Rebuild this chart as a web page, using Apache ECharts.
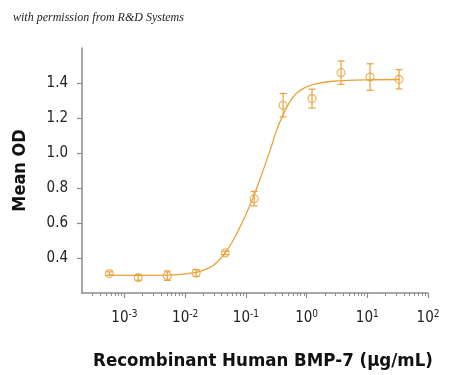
<!DOCTYPE html>
<html>
<head>
<meta charset="utf-8">
<script src="https://cdn.jsdelivr.net/npm/echarts@6/dist/echarts.min.js"></script>
<style>
  html, body { margin: 0; padding: 0; background: #fff; }
  #chart { width: 450px; height: 375px; }
</style>
</head>
<body>
<div id="chart"></div>
<script>
// concentrations (ug/mL), 3-fold dilution
const conc = [0.000564, 0.00169, 0.00508, 0.0152, 0.0457, 0.137, 0.411, 1.23, 3.7, 11.1, 33.3]
const meanOD = [0.311, 0.288, 0.299, 0.314, 0.429, 0.739, 1.273, 1.311, 1.459, 1.434, 1.421]
const errOD = [0.010, 0.015, 0.027, 0.019, 0.010, 0.041, 0.067, 0.054, 0.067, 0.076, 0.055]

// fitted curve
const fitConc = [0.000525, 0.00164, 0.00492, 0.0154, 0.0252, 0.0325, 0.0446, 0.0610, 0.0787, 0.101, 0.130, 0.168,
  0.217, 0.262, 0.317, 0.383, 0.525, 0.676, 0.989, 1.64, 2.72, 9.66, 34.1]
const fitOD = [0.302, 0.301, 0.302, 0.318, 0.345, 0.372, 0.425, 0.497, 0.572, 0.652, 0.740, 0.843,
  0.952, 1.035, 1.125, 1.195, 1.290, 1.340, 1.378, 1.400, 1.410, 1.418, 1.420]

const xMajor = [-3, -2, -1, 0, 1, 2]
const yTicks = [0.4, 0.6, 0.8, 1.0, 1.2, 1.4]

const ORANGE = '#e8a23a'
const AXIS = '#8a8a8a'
const FONT = "'DejaVu Sans', sans-serif"

// minor ticks 2..9 in each decade
const xMinor = []
for (let e = -4; e < 2; e++) {
  for (let m = 2; m <= 9; m++) {
    const v = Math.log10(m * Math.pow(10, e))
    if (v > Math.log10(0.0002)) xMinor.push(v)
  }
}

const lg = v => Math.log10(v)

const chart = echarts.init(document.getElementById('chart'))
chart.setOption({
  animation: false,
  title: {
    text: 'with permission from R&D Systems',
    left: 8, top: 7,
    textStyle: { fontFamily: "'Liberation Serif', serif", fontStyle: 'italic',
      fontWeight: 'normal', fontSize: 12, color: '#222' },
  },
  grid: { left: 82, right: 22, top: 48, bottom: 82, outerBoundsMode: 'none' },
  xAxis: [
    {
      type: 'value', min: lg(0.0002), max: 2,
      name: 'Recombinant Human BMP-7 (μg/mL)',
      nameLocation: 'middle', nameGap: 59,
      nameTextStyle: { fontFamily: FONT, fontWeight: 'bold condensed', fontSize: 18.5, color: '#111',
        padding: [0, 0, 0, 16] },
      axisLine: { show: true, onZero: false, lineStyle: { color: AXIS, width: 1.5 } },
      axisTick: { show: true, length: 5, customValues: xMajor, lineStyle: { color: AXIS, width: 1.2 } },
      splitLine: { show: false },
      axisLabel: {
        customValues: xMajor, margin: 16,
        formatter: v => '{b|10}{s|' + Math.round(v) + '}',
        rich: {
          b: { fontFamily: FONT, fontWeight: 'condensed', fontSize: 15, color: '#222' },
          s: { fontFamily: FONT, fontWeight: 'condensed', fontSize: 10, color: '#222', padding: [0, 0, 9, 0] },
        },
      },
    },
    {
      // minor ticks only
      type: 'value', min: lg(0.0002), max: 2, position: 'bottom',
      axisLine: { show: false, onZero: false },
      axisTick: { show: true, length: 3, customValues: xMinor, lineStyle: { color: AXIS, width: 1 } },
      axisLabel: { show: false },
      splitLine: { show: false },
    },
  ],
  yAxis: {
    type: 'value', min: 0.2, max: 1.6, interval: 0.2,
    name: 'Mean OD', nameLocation: 'middle', nameGap: 53,
    nameTextStyle: { fontFamily: FONT, fontWeight: 'bold condensed', fontSize: 18, color: '#111' },
    axisLine: { show: true, onZero: false, lineStyle: { color: AXIS, width: 1.5 } },
    axisTick: { show: true, length: 5, customValues: yTicks, lineStyle: { color: AXIS, width: 1.2 } },
    splitLine: { show: false },
    axisLabel: {
      customValues: yTicks, margin: 14,
      fontFamily: FONT, fontWeight: 'condensed', fontSize: 15, color: '#222',
      formatter: v => v.toFixed(1),
    },
  },
  series: [
    {
      type: 'line', smooth: 0.4, showSymbol: false,
      lineStyle: { color: ORANGE, width: 1.3 },
      data: fitConc.map((c, i) => [lg(c), fitOD[i]]),
      z: 2,
    },
    {
      type: 'custom',
      data: conc.map((c, i) => [lg(c), meanOD[i] - errOD[i], meanOD[i] + errOD[i]]),
      renderItem: (params, api) => {
        const lo = api.coord([api.value(0), api.value(1)])
        const hi = api.coord([api.value(0), api.value(2)])
        const w = 3.5
        const style = { stroke: ORANGE, lineWidth: 1.2, fill: null }
        return {
          type: 'group',
          children: [
            { type: 'line', shape: { x1: lo[0], y1: lo[1], x2: hi[0], y2: hi[1] }, style },
            { type: 'line', shape: { x1: lo[0] - w, y1: lo[1], x2: lo[0] + w, y2: lo[1] }, style },
            { type: 'line', shape: { x1: hi[0] - w, y1: hi[1], x2: hi[0] + w, y2: hi[1] }, style },
          ],
        }
      },
      z: 3,
    },
    {
      type: 'scatter', symbol: 'circle', symbolSize: 8,
      itemStyle: { color: 'transparent', borderColor: ORANGE, borderWidth: 1.2 },
      data: conc.map((c, i) => [lg(c), meanOD[i]]),
      z: 4,
    },
  ],
})
</script>
</body>
</html>
